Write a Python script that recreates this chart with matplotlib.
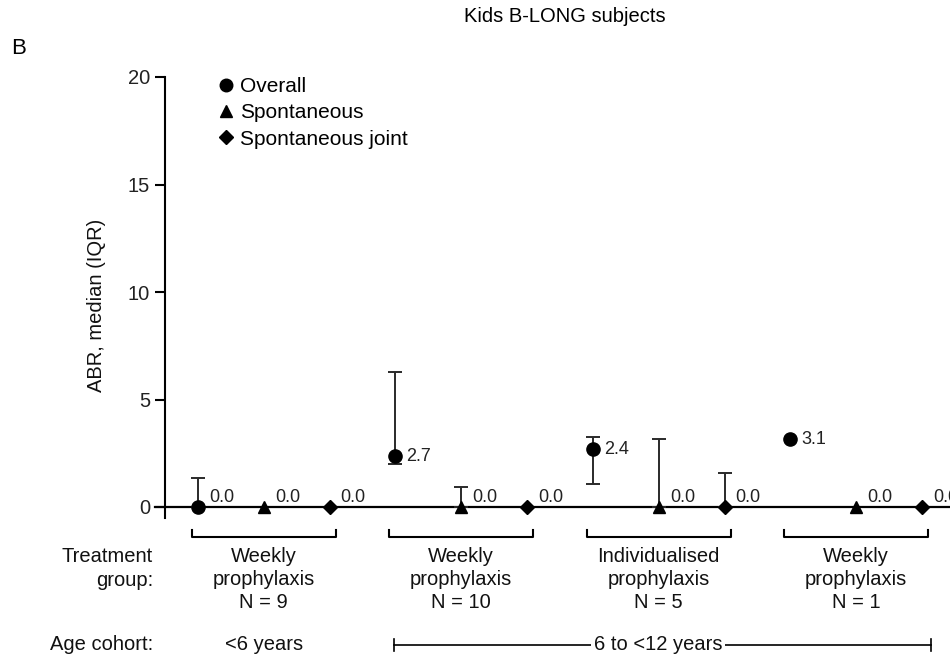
import numpy as np
import matplotlib
matplotlib.use("Agg")
import matplotlib.pyplot as plt
from matplotlib.lines import Line2D

plt.rcParams['font.family'] = ['Liberation Sans', 'DejaVu Sans']

# ---- data ----
series_names = ["Overall", "Spontaneous", "Spontaneous joint"]
series_markers = ["o", "^", "D"]
group_labels = ["Weekly\nprophylaxis\nN = 9", "Weekly\nprophylaxis\nN = 10",
                "Individualised\nprophylaxis\nN = 5", "Weekly\nprophylaxis\nN = 1"]
# plotted medians (as drawn) per group: [Overall, Spontaneous, Spontaneous joint]
medians = [[0.0, 0.0, 0.0],
           [2.37, 0.0, 0.0],
           [2.68, 0.0, 0.0],
           [3.16, 0.0, 0.0]]
median_labels = [["0.0", "0.0", "0.0"],
                 ["2.7", "0.0", "0.0"],
                 ["2.4", "0.0", "0.0"],
                 ["3.1", "0.0", "0.0"]]
iqr_low = [[0.0, np.nan, np.nan],
           [2.0, 0.0, np.nan],
           [1.07, 0.0, 0.0],
           [np.nan, np.nan, np.nan]]
iqr_high = [[1.35, np.nan, np.nan],
            [6.28, 0.93, np.nan],
            [3.24, 3.16, 1.6],
            [np.nan, np.nan, np.nan]]
age_cohorts = ["<6 years", "6 to <12 years"]
yticks = [0, 5, 10, 15, 20]

# ---- layout ----
W, H = 950, 666
FS = 14.5
fig = plt.figure(figsize=(W / 100, H / 100), dpi=100)
ax = fig.add_axes([0, 0, 1, 1])
px_x = (922 - 198) / 11.0
px_y = (507 - 77) / 20.0
ax.set_xlim(-198 / px_x, (W - 198) / px_x)
ax.set_ylim(-(H - 507) / px_y, 507 / px_y)
ax.patch.set_alpha(0)

def dy(py):
    return (507 - py) / px_y

def dx(px):
    return (px - 198) / px_x

for s in ["top", "right", "bottom"]:
    ax.spines[s].set_visible(False)
ax.spines["left"].set_position(("data", -0.5))
ax.spines["left"].set_bounds(-0.5, 20)
ax.spines["left"].set_linewidth(1.5)
ax.set_yticks(yticks)
ax.set_yticklabels([str(t) for t in yticks], fontsize=FS, color="#222222")
ax.tick_params(axis="y", length=7.2, width=1.5, pad=3.6)
ax.set_xticks([])

# baseline at zero
ax.plot([dx(155), 12], [0, 0], color="black", lw=1.6, zorder=2, clip_on=False)

sizes = {"o": 9.5, "^": 8.5, "D": 7}
for g in range(len(group_labels)):
    for s in range(3):
        x = g * 3 + s
        y = medians[g][s]
        lo, hi = iqr_low[g][s], iqr_high[g][s]
        if not np.isnan(hi):
            ax.errorbar([x], [y], yerr=[[y - lo], [hi - y]], fmt="none",
                        ecolor="#2a2a2a", elinewidth=1.4, capsize=5, capthick=1.4, zorder=3)
        ax.plot([x], [y], marker=series_markers[s], ms=sizes[series_markers[s]],
                color="black", ls="none", zorder=4)
        off = 6.5 if y == 0 else 0
        ax.annotate(median_labels[g][s], (x, y), xytext=(8, off), textcoords="offset points",
                    ha="left", va="center", fontsize=13, color="#222222")

    # bracket under group
    x0, x1 = g * 3 - 0.095, g * 3 + 2.095
    yb, yt = dy(537), dy(530)
    ax.plot([x0, x0, x1, x1], [yt, yb, yb, yt], color="black", lw=1.5, clip_on=False)
    ax.text(g * 3 + 1, dy(579.5), group_labels[g], ha="center", va="center", fontsize=FS,
            linespacing=1.3, color="#111111")

# left labels
xl = dx(153)
ax.text(xl, dy(568.5), "Treatment\ngroup:", ha="right", va="center", fontsize=FS,
        linespacing=1.3, color="#111111")
ya = dy(645)
ax.text(xl, ya, "Age cohort:", ha="right", va="center", fontsize=FS, color="#111111")
ax.text(1, ya, age_cohorts[0], ha="center", va="center", fontsize=FS, color="#111111")
xa0, xa1 = dx(394), dx(931)
ax.plot([xa0, xa1], [ya, ya], color="black", lw=1.2)
ax.plot([xa0, xa0], [ya - 0.28, ya + 0.28], color="black", lw=1.2)
ax.plot([xa1, xa1], [ya - 0.28, ya + 0.28], color="black", lw=1.2)
ax.text(dx(658), ya, age_cohorts[1], ha="center", va="center", fontsize=FS, color="#111111",
        bbox=dict(facecolor="white", edgecolor="none", pad=2))

# y label
ax.text(dx(96), dy(305), "ABR, median (IQR)", rotation=90, ha="center", va="center",
        fontsize=FS, color="#111111")

# legend
handles = [Line2D([], [], marker=m, color="black", ls="none", ms=sizes[m] * 0.95)
           for m in series_markers]
ax.legend(handles, series_names, loc="upper left", bbox_to_anchor=(220 / W, 1 - 77 / H),
          frameon=False, fontsize=15, handlelength=0.6, handletextpad=0.37,
          labelspacing=0.35, borderpad=0, borderaxespad=0)

fig.text(565 / W, 1 - 16 / H, "Kids B-LONG subjects", ha="center", va="center", fontsize=FS)
fig.text(11 / W, 1 - 49 / H, "B", ha="left", va="center", fontsize=16)

fig.savefig("out.png", dpi=100)
